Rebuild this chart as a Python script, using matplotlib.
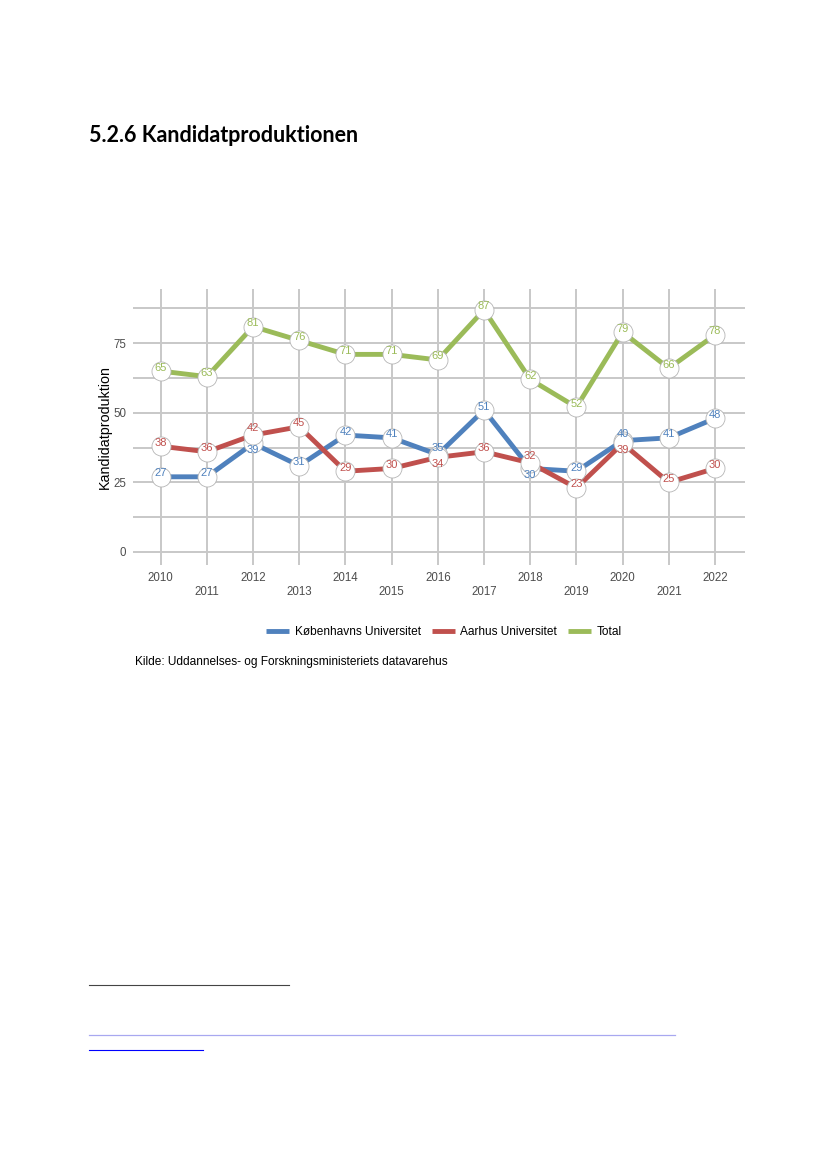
import matplotlib
matplotlib.use('Agg')
import matplotlib.pyplot as plt
from matplotlib.lines import Line2D

# data
years = list(range(2010, 2023))
ku = [27, 27, 39, 31, 42, 41, 35, 51, 30, 29, 40, 41, 48]
au = [38, 36, 42, 45, 29, 30, 34, 36, 32, 23, 39, 25, 30]
total = [65, 63, 81, 76, 71, 71, 69, 87, 62, 52, 79, 66, 78]
names = ['Københavns Universitet', 'Aarhus Universitet', 'Total']
colors = ['#4F81BD', '#C0504D', '#9BBB59']

plt.rcParams['font.family'] = ['Liberation Sans', 'DejaVu Sans']

fig = plt.figure(figsize=(8.3, 11.7), dpi=100)

fig.text(89/830, 1-136/1170, '5.2.6 Kandidatproduktionen', fontsize=15.5,
         fontweight='bold', family=['Lato', 'DejaVu Sans'],
         va='center', ha='left', color='black')

ax = fig.add_axes([133/830, 1-565/1170, (745-133)/830, (565-289)/1170])
ax.set_xlim(2009.4, 2022.65)
ax.set_ylim(-4.7, 94.5)
for s in ax.spines.values():
    s.set_visible(False)

gc = '#c8c8c8'
for y in [0, 12.5, 25, 37.5, 50, 62.5, 75, 87.5]:
    ax.axhline(y, color=gc, lw=1.4, zorder=0)
for x in years:
    ax.axvline(x, color=gc, lw=1.4, zorder=0)

series = [ku, au, total]
for vals, c in zip(series, colors):
    ax.plot(years, vals, color=c, lw=3.5, solid_capstyle='butt', zorder=2)
for vals in series:
    ax.plot(years, vals, 'o', ms=13.7, mfc='white', mec='#b5b5b5', mew=0.6, zorder=3)

# labels, nudged apart where KU and AU are close
pxu = 94.5 + 4.7
per_px = pxu / 276
for i, yr in enumerate(years):
    k, a, t = ku[i], au[i], total[i]
    dk = da = 3.5
    if abs(k - a) <= 5:
        if k >= a:
            dk, da = 7, -7
        else:
            dk, da = -7, 7
    ax.text(yr, k + dk*per_px, str(k), color=colors[0], fontsize=8,
            ha='center', va='center', zorder=4)
    ax.text(yr, a + da*per_px, str(a), color=colors[1], fontsize=8,
            ha='center', va='center', zorder=4)
    ax.text(yr, t + 3.5*per_px, str(t), color=colors[2], fontsize=8,
            ha='center', va='center', zorder=4)

ax.set_yticks([0, 25, 50, 75])
ax.set_xticks(years)
ax.set_xticklabels([str(y) if (y - 2010) % 2 == 0 else '\n' + str(y) for y in years])
ax.tick_params(length=0, labelsize=8.3, labelcolor='#4d4d4d', pad=5)
ax.set_ylabel('Kandidatproduktion', fontsize=10.3, color='black', labelpad=1)

handles = [Line2D([], [], color=c, lw=3.5, solid_capstyle='butt') for c in colors]
fig.legend(handles, names, loc='center', bbox_to_anchor=(444/830, 1-632/1170),
           ncol=3, frameon=False, fontsize=8.6, handlelength=1.95,
           columnspacing=0.9, handletextpad=0.45)

fig.text(135/830, 1-662/1170,
         'Kilde: Uddannelses- og Forskningsministeriets datavarehus',
         fontsize=8.6, ha='left', va='center', color='black')

# footnote rules
fig.add_artist(Line2D([89/830, 289/830], [1-985/1170, 1-985/1170],
                      color='#444444', lw=0.8))
fig.add_artist(Line2D([89/830, 675/830], [1-1035/1170, 1-1035/1170],
                      color='#a8a8f0', lw=0.9))
fig.add_artist(Line2D([89/830, 203/830], [1-1050/1170, 1-1050/1170],
                      color='#0000ff', lw=0.8))

fig.savefig('out.png', dpi=100)
